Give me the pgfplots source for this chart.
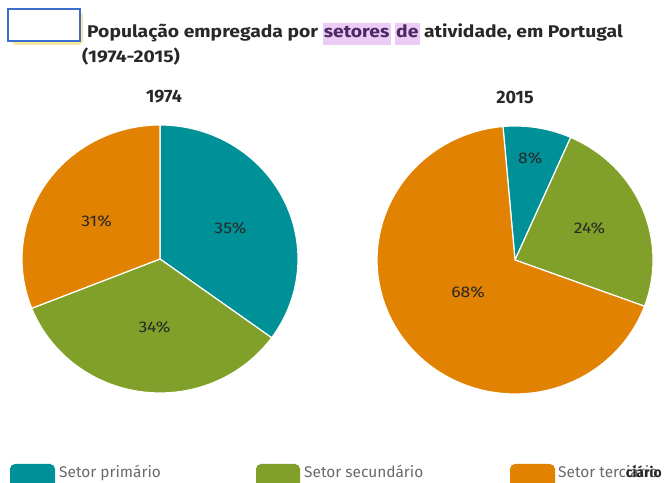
\documentclass[border=0pt]{standalone}
\usepackage{fontspec}
\setmainfont{Fira Sans}
\usepackage{graphicx}
\usepackage{pgfplots}
\pgfplotsset{compat=1.18}
\definecolor{prim}{RGB}{0,145,152}
\definecolor{sec}{RGB}{128,160,42}
\definecolor{ter}{RGB}{226,130,2}
\definecolor{hl}{RGB}{234,204,246}
\definecolor{hltext}{RGB}{75,40,95}
\definecolor{boxblue}{RGB}{60,110,205}
\definecolor{shadowy}{RGB}{248,232,160}
\definecolor{lbl}{RGB}{40,40,40}
\definecolor{leg}{RGB}{105,105,105}
% one pie slice: start angle, percentage, colour
\newcommand{\slice}[3]{%
  \addplot[fill=#3, draw=white, line width=1.2bp, domain={#1-3.6*#2}:{#1}, samples=120, variable=\t]
    ({cos(\t)},{sin(\t)}) -- (axis cs:0,0) -- cycle;}
\newcommand{\hlbox}[1]{{\setlength{\fboxsep}{1pt}\colorbox{hl}{\strut\textcolor{hltext}{#1}}}}
\newcommand{\wide}[1]{\scalebox{1.14}[1]{#1}}
\pgfplotsset{pie/.style={hide axis, scale only axis, width=276bp, height=268bp,
  xmin=-1, xmax=1, ymin=-1, ymax=1, clip=false, anchor=center}}
\tikzset{pielbl/.style={font=\fontsize{15.5}{18}\selectfont, text=lbl}}
\begin{document}
\begin{tikzpicture}[x=1bp, y=1bp]
\path[use as bounding box] (0,0) rectangle (668,483);
% title
\fill[shadowy, rounded corners=4bp] (12,438) rectangle (83,471);
\filldraw[fill=white, draw=boxblue, line width=1.5bp] (8,442) rectangle (80,474);
\node[anchor=base west, inner sep=0, font=\bfseries\fontsize{17}{20}\selectfont, text=lbl]
  at (87,445) {\wide{População empregada por \hlbox{setores} \hlbox{de} atividade, em Portugal}};
\node[anchor=base west, inner sep=0, font=\bfseries\fontsize{17}{20}\selectfont, text=lbl]
  at (82,420) {\wide{(1974-2015)}};
% 1974
\node[font=\bfseries\fontsize{18}{21}\selectfont, text=lbl] at (164,386) {1974};
\begin{axis}[pie, at={(160bp,224bp)}]
\slice{90}{35}{prim}
\slice{-36}{34}{sec}
\slice{-158.4}{31}{ter}
\node[pielbl] at (axis cs:0.51,0.23) {\wide{35\%}};
\node[pielbl] at (axis cs:-0.04,-0.51) {\wide{34\%}};
\node[pielbl] at (axis cs:-0.46,0.28) {\wide{31\%}};
\end{axis}
% 2015
\node[font=\bfseries\fontsize{18}{21}\selectfont, text=lbl] at (515,386) {2015};
\begin{axis}[pie, at={(515bp,223bp)}]
\slice{95}{8}{prim}
\slice{66.2}{24}{sec}
\slice{-20.2}{68}{ter}
\node[pielbl] at (axis cs:0.11,0.76) {\wide{8\%}};
\node[pielbl] at (axis cs:0.54,0.24) {\wide{24\%}};
\node[pielbl] at (axis cs:-0.34,-0.24) {\wide{68\%}};
\end{axis}
% legend
\fill[prim, rounded corners=5bp] (10,-6) rectangle (55,19);
\node[anchor=base west, inner sep=0, text=leg, font=\fontsize{15.5}{18}\selectfont] at (59,5) {Setor primário};
\fill[sec, rounded corners=5bp] (256,-6) rectangle (300,19);
\node[anchor=base west, inner sep=0, text=leg, font=\fontsize{15.5}{18}\selectfont] at (304,5) {Setor secundário};
\fill[ter, rounded corners=5bp] (510,-6) rectangle (555,19);
\node[anchor=base west, inner sep=0, text=leg, font=\fontsize{15.5}{18}\selectfont] at (558,5) {Setor terciário};
\node[anchor=base east, inner sep=0, text=lbl, font=\bfseries\fontsize{14}{18}\selectfont] at (662,5) {ciário};
\end{tikzpicture}
\end{document}
